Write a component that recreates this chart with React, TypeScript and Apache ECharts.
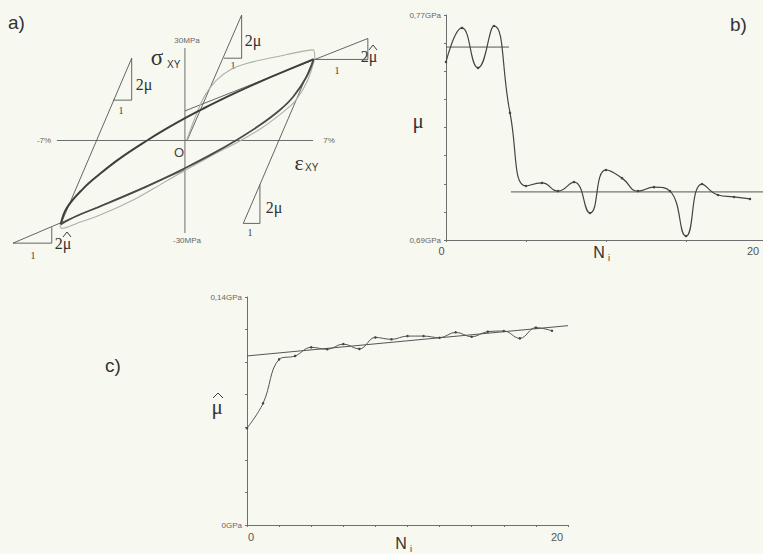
import React, { useEffect, useRef } from 'react';
import * as echarts from 'echarts';

// ---------- panel b : shear modulus mu vs cycle number ----------
const CYCLES = [0, 1, 2, 3, 4, 5, 6, 7, 8, 9, 10, 11, 12, 13, 14, 15, 16, 17, 18, 19];
const MU_GPA = [0.7533, 0.7654, 0.7512, 0.7661, 0.7352, 0.7092, 0.7103, 0.7074, 0.7106, 0.6996,
  0.7149, 0.712, 0.7074, 0.7088, 0.7074, 0.6914, 0.7099, 0.706, 0.7053, 0.7046];
const MU_MEAN_EARLY = [[0, 0.7586], [3.94, 0.7586]];
const MU_MEAN_LATE = [[4.06, 0.7071], [20, 0.7071]];
const B_Y_LABELS = ['0,69GPa', '0,77GPa'];
const B_X_LABELS = ['0', '20'];

// ---------- panel c : mu-hat vs cycle number ----------
const MU_HAT_GPA = [0.0594, 0.0747, 0.1017, 0.1038, 0.1091, 0.1079, 0.1111, 0.1081, 0.1152, 0.114,
  0.116, 0.116, 0.115, 0.1183, 0.1156, 0.1187, 0.1191, 0.1146, 0.1212, 0.1193];
const MU_HAT_TREND = [[0, 0.1038], [20, 0.1224]];
const C_Y_LABELS = ['0GPa', '0,14GPa'];
const C_X_LABELS = ['0', '20'];

// ---------- panel a : stress-strain loops (strain %, stress MPa) ----------
const UPPER_BRANCH = [[-6.79, -27.2], [-6.46, -21.9], [-5.56, -15.6], [-4.64, -10.8], [-3.55, -5.8],
  [-2.07, 0.0], [-0.99, 3.9], [0.13, 7.65], [1.0, 10.35], [2.64, 15.1], [4.46, 20.0], [5.92, 23.65], [7.04, 26.4]];
const LOWER_BRANCH = [[7.04, 26.4], [6.65, 20.7], [5.92, 14.2], [5.19, 9.9], [4.1, 5.0], [2.83, 0.17],
  [1.55, -4.18], [0.13, -8.58], [-1.37, -12.93], [-2.82, -16.85], [-4.64, -21.4], [-5.92, -24.5], [-6.79, -27.2]];
const FIRST_LOADING = [[0.1, 0.16], [1.0, 13.6], [1.73, 19.6], [2.46, 22.9], [3.37, 25.0], [5.01, 27.2],
  [7.01, 29.4], [7.1, 26.7]];
const FIRST_UNLOADING = [[7.1, 26.7], [6.72, 19.6], [6.07, 13.1], [5.36, 9.2], [4.2, 4.05], [3.0, -0.16],
  [1.53, -4.7], [0.13, -9.3], [-0.27, -10.6], [-1.37, -14.4], [-2.83, -19.3], [-4.64, -24.2], [-5.92, -26.9],
  [-6.74, -28.5], [-6.83, -27.4]];
const STRAIN_AXIS = [[-7, 0], [7, 0]];
const STRESS_AXIS = [[0, -30], [0, 30]];
// slope triangles (line + legs)
const MU_LINE_LEFT = [[-6.79, -27.2], [-2.91, 26.7], [-2.91, 13.1], [-3.92, 13.1]];
const MU_LINE_ORIGIN = [[0.13, 0.16], [3.1, 40.7], [3.1, 26.7], [2.13, 26.7]];
const MU_LINE_RIGHT = [[7.04, 26.4], [3.19, -26.9], [4.1, -26.9], [4.1, -14.3]];
const MUHAT_LINE_UPPER = [[0, 9.6], [10.0, 33.1], [10.0, 26.3], [7.04, 26.3]];
const MUHAT_LINE_LOWER = [[0, -9.5], [-9.4, -33.3], [-7.28, -33.3], [-7.28, -28.1]];

const SANS = 'Liberation Sans, Arial, sans-serif';
const SERIF = 'Liberation Serif, Times New Roman, serif';
const INK = '#3c3c3c';
const AXIS = '#6e6e6e';

const near = (a: number, b: number) => Math.abs(a - b) < 1e-6;

function lineSeries(data: number[][], idx: number, color: string, width: number, smooth: number | boolean = false, extra: any = {}) {
  return {
    type: 'line', data, xAxisIndex: idx, yAxisIndex: idx, symbol: 'none', smooth,
    lineStyle: { color, width }, silent: true, z: 2, ...extra,
  };
}

function txt(text: string, x: number, y: number, size: number, family: string, fill = INK, align = 'left', extra: any = {}) {
  return { type: 'text', x, y, silent: true, style: { text, font: `${size}px ${family}`, fill, align, verticalAlign: 'middle', ...extra } };
}

function hat(cx: number, cy: number, w: number) {
  return { type: 'polyline', silent: true, shape: { points: [[cx - w, cy + 3], [cx, cy - 2], [cx + w, cy + 3]] }, style: { stroke: INK, lineWidth: 1, fill: 'none' } };
}

export default function App() {
  const ref = useRef<HTMLDivElement>(null);
  useEffect(() => {
    const chart = echarts.init(ref.current!, undefined, { renderer: 'svg' });
    const hidden = { show: false };
    const xLabelStyle = { color: '#555', fontSize: 11, fontFamily: SANS };
    const option: any = {
      animation: false,
      backgroundColor: '#f7f8ef',
      grid: [
        { left: 2, top: 1.8, width: 375, height: 262, outerBoundsMode: 'none' },
        { left: 446, top: 15, width: 320, height: 225, outerBoundsMode: 'none' },
        { left: 247, top: 297, width: 321, height: 228, outerBoundsMode: 'none' },
      ],
      xAxis: [
        { gridIndex: 0, type: 'value', min: -10, max: 10.5, ...hidden },
        {
          gridIndex: 1, type: 'value', min: 0, max: 20, interval: 5,
          axisLine: { lineStyle: { color: AXIS, width: 1 } },
          axisTick: { show: true, length: 2, lineStyle: { color: AXIS } },
          splitLine: { show: false },
          axisLabel: {
            showMinLabel: true, showMaxLabel: true, margin: 5, align: 'center',
            formatter: (v: number) => (v === 0 ? `{a|${B_X_LABELS[0]}}` : v === 20 ? `{b|${B_X_LABELS[1]}}` : ''),
            rich: {
              a: { ...xLabelStyle, padding: [0, 9, 0, 0] },
              b: { ...xLabelStyle, padding: [0, 26, 0, 0] },
            },
          },
        },
        {
          gridIndex: 2, type: 'value', min: 0, max: 20, interval: 2,
          axisLine: { lineStyle: { color: AXIS, width: 1 } },
          axisTick: { show: true, length: 2, lineStyle: { color: AXIS } },
          splitLine: { show: false },
          axisLabel: {
            showMinLabel: true, showMaxLabel: true, margin: 6, align: 'center',
            formatter: (v: number) => (v === 0 ? `{a|${C_X_LABELS[0]}}` : v === 20 ? `{b|${C_X_LABELS[1]}}` : ''),
            rich: {
              a: { ...xLabelStyle, padding: [0, 0, 0, 8] },
              b: { ...xLabelStyle, padding: [0, 22, 0, 0] },
            },
          },
        },
      ],
      yAxis: [
        { gridIndex: 0, type: 'value', min: -40, max: 45, ...hidden },
        {
          gridIndex: 1, type: 'value', min: 0.69, max: 0.77, interval: 0.01,
          axisLine: { show: true, lineStyle: { color: AXIS, width: 1 } },
          axisTick: { show: true, length: 2, lineStyle: { color: AXIS } },
          splitLine: { show: false },
          axisLabel: {
            showMinLabel: true, showMaxLabel: true, margin: 5,
            color: '#666', fontSize: 8, fontFamily: SANS,
            formatter: (v: number) => (near(v, 0.69) ? B_Y_LABELS[0] : near(v, 0.77) ? B_Y_LABELS[1] : ''),
          },
        },
        {
          gridIndex: 2, type: 'value', min: 0, max: 0.14, interval: 0.02,
          axisLine: { show: true, lineStyle: { color: AXIS, width: 1 } },
          axisTick: { show: true, length: 2, lineStyle: { color: AXIS } },
          splitLine: { show: false },
          axisLabel: {
            showMinLabel: true, showMaxLabel: true, margin: 5,
            color: '#666', fontSize: 8, fontFamily: SANS,
            formatter: (v: number) => (near(v, 0) ? C_Y_LABELS[0] : near(v, 0.14) ? C_Y_LABELS[1] : ''),
          },
        },
      ],
      series: [
        // panel a
        lineSeries(STRAIN_AXIS, 0, AXIS, 1),
        lineSeries(STRESS_AXIS, 0, AXIS, 1),
        lineSeries(MU_LINE_LEFT, 0, '#555', 0.9),
        lineSeries(MU_LINE_ORIGIN, 0, '#555', 0.9),
        lineSeries(MU_LINE_RIGHT, 0, '#555', 0.9),
        lineSeries(MUHAT_LINE_UPPER, 0, '#555', 0.9),
        lineSeries(MUHAT_LINE_LOWER, 0, '#555', 0.9),
        lineSeries(FIRST_LOADING, 0, '#aeb0a8', 1.1, 0.3),
        lineSeries(FIRST_UNLOADING, 0, '#aeb0a8', 1.1, 0.3),
        lineSeries(UPPER_BRANCH, 0, '#3e3e3e', 2, 0.4, { z: 3 }),
        lineSeries(LOWER_BRANCH, 0, '#4a4a4a', 1.8, 0.4, { z: 3 }),
        // panel b
        lineSeries(MU_MEAN_EARLY, 1, '#555', 1),
        lineSeries(MU_MEAN_LATE, 1, '#555', 1),
        {
          type: 'line', xAxisIndex: 1, yAxisIndex: 1, data: CYCLES.map((n, i) => [n, MU_GPA[i]]),
          smooth: 0.5, symbol: 'circle', symbolSize: 2.5, silent: true,
          lineStyle: { color: '#444', width: 1.2 }, itemStyle: { color: '#444' }, z: 3,
        },
        // panel c
        lineSeries(MU_HAT_TREND, 2, '#555', 1),
        {
          type: 'line', xAxisIndex: 2, yAxisIndex: 2, data: CYCLES.map((n, i) => [n, MU_HAT_GPA[i]]),
          smooth: 0.4, symbol: 'circle', symbolSize: 2.5, silent: true,
          lineStyle: { color: '#555', width: 1 }, itemStyle: { color: '#444' }, z: 3,
        },
      ],
      graphic: [
        // panel a texts
        txt('a)', 8, 22, 19, SANS, '#333'),
        txt('30MPa', 187, 40, 8, SANS, '#666', 'center'),
        txt('-30MPa', 187, 240, 8, SANS, '#666', 'center'),
        txt('-7%', 44, 140, 8, SANS, '#666', 'center'),
        txt('7%', 329, 140, 8, SANS, '#666', 'center'),
        txt('O', 179, 152, 13, SANS, '#444', 'center'),
        txt('σ', 157, 57, 23, SERIF, '#333', 'center'),
        txt('XY', 167, 64, 10, SANS, '#333', 'left'),
        txt('ε', 299, 162, 22, SERIF, '#333', 'center'),
        txt('XY', 305, 167, 10, SANS, '#333', 'left'),
        txt('2μ', 253, 40, 16, SERIF, '#333', 'center'),
        txt('1', 233, 65, 10, SERIF, '#444', 'center'),
        txt('2μ', 144, 84, 16, SERIF, '#333', 'center'),
        txt('1', 121, 110, 10, SERIF, '#444', 'center'),
        txt('2μ', 274, 207, 16, SERIF, '#333', 'center'),
        txt('1', 250, 232, 10, SERIF, '#444', 'center'),
        txt('2μ', 369, 56, 16, SERIF, '#333', 'center'),
        hat(373, 47, 4),
        txt('1', 337, 70, 10, SERIF, '#444', 'center'),
        txt('2μ', 63, 243, 16, SERIF, '#333', 'center'),
        hat(67, 234, 4),
        txt('1', 33, 255, 10, SERIF, '#444', 'center'),
        // panel b texts
        txt('b)', 730, 24, 19, SANS, '#333'),
        txt('μ', 418, 121, 21, SERIF, '#333', 'center'),
        txt('N', 599, 252, 16, SANS, '#333', 'center'),
        txt('i', 609, 258, 9, SANS, '#333', 'center'),
        // panel c texts
        txt('c)', 105, 365, 19, SANS, '#333'),
        txt('μ', 217, 407, 21, SERIF, '#333', 'center'),
        hat(218, 395, 5),
        txt('N', 401, 543, 16, SANS, '#333', 'center'),
        txt('i', 411, 549, 9, SANS, '#333', 'center'),
      ],
    };
    chart.setOption(option);
    return () => chart.dispose();
  }, []);
  return <div ref={ref} style={{ position: 'fixed', left: 0, top: 0, width: 763, height: 554 }} />;
}
